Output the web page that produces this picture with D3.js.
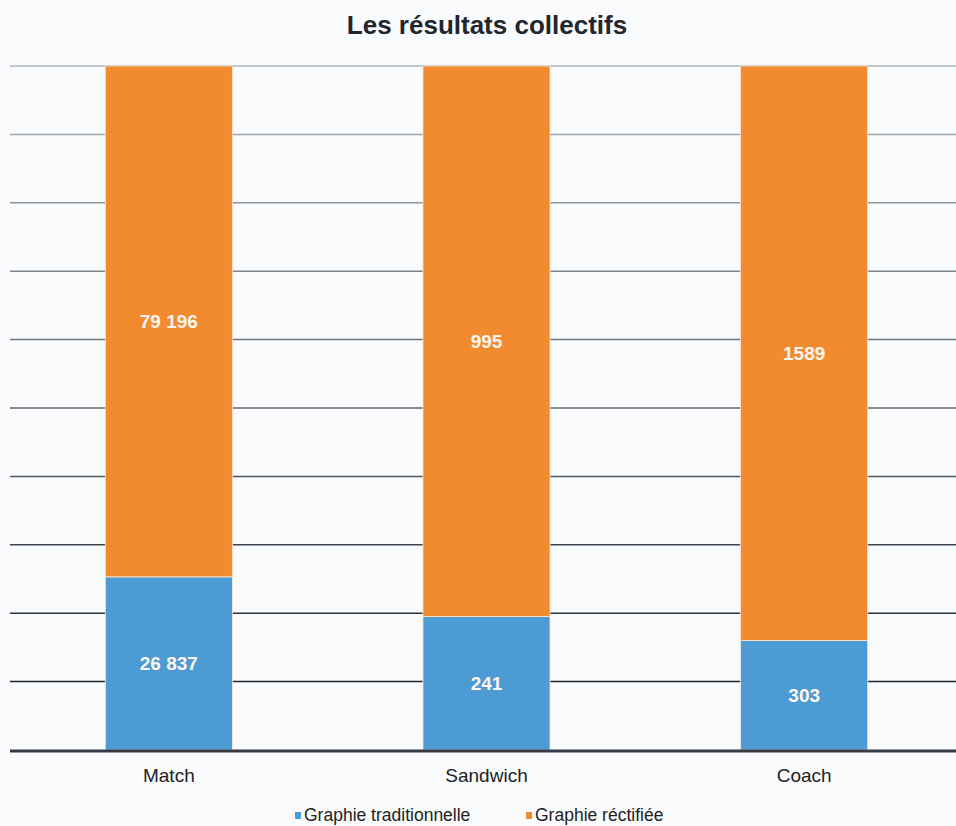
<!DOCTYPE html>
<html>
<head>
<meta charset="utf-8">
<script src="https://cdn.jsdelivr.net/npm/d3@7"></script>
<style>
  body { margin: 0; background: #fff; }
  svg { font-family: "Liberation Sans", Arial, sans-serif; }
</style>
</head>
<body>
<div id="chart"></div>
<script>
// data
const categories = ["Match", "Sandwich", "Coach"];
const traditionnelle = [26837, 241, 303];
const rectifiee = [79196, 995, 1589];
const seriesNames = ["Graphie traditionnelle", "Graphie réctifiée"];
const labelsTrad = ["26 837", "241", "303"];
const labelsRect = ["79 196", "995", "1589"];

const width = 956;
const height = 826;
const margin = {top: 66, right: -7, bottom: 76, left: 10};
const colors = ["#4c9bd4", "#f28a30"];

const svg = d3.select("#chart")
    .append("svg")
    .attr("width", width)
    .attr("height", height);

svg.append("rect")
    .attr("width", width)
    .attr("height", height)
    .attr("fill", "#fafbfd");

const x = d3.scaleBand()
    .domain(categories)
    .range([margin.left, width - margin.right])
    .paddingInner(0.6)
    .paddingOuter(0.3);

const y = d3.scaleLinear()
    .domain([0, 1])
    .range([height - margin.bottom, margin.top]);

// gridlines, lighter at the top, darker at the bottom
const ticks = d3.range(0, 11).map(d => d / 10);
const gridColor = d3.scaleLinear().domain([1, 0.1]).range(["#aeb6be", "#1f2430"]);
svg.append("g")
    .selectAll("line")
    .data(ticks.filter(t => t > 0))
    .enter()
    .append("line")
    .attr("x1", margin.left)
    .attr("x2", width)
    .attr("y1", d => y(d))
    .attr("y2", d => y(d))
    .attr("stroke", d => gridColor(d))
    .attr("stroke-width", 1.5);

// stacked, normalised to 100 %
const rows = categories.map((c, i) => ({cat: c, trad: traditionnelle[i], rect: rectifiee[i], i: i}));
const stack = d3.stack().keys(["trad", "rect"]).offset(d3.stackOffsetExpand);
const layers = stack(rows);
const segLabels = [labelsTrad, labelsRect];

const g = svg.append("g");
layers.forEach((layer, li) => {
  g.selectAll(".bar" + li)
    .data(layer)
    .enter()
    .append("rect")
    .attr("x", d => x(d.data.cat))
    .attr("width", x.bandwidth())
    .attr("y", d => y(d[1]))
    .attr("height", d => y(d[0]) - y(d[1]))
    .attr("fill", colors[li])
    .attr("stroke", "#fde9d8")
    .attr("stroke-width", 0.8);

  g.selectAll(".lab" + li)
    .data(layer)
    .enter()
    .append("text")
    .attr("x", d => x(d.data.cat) + x.bandwidth() / 2)
    .attr("y", d => (y(d[0]) + y(d[1])) / 2)
    .attr("dy", "0.35em")
    .attr("text-anchor", "middle")
    .attr("fill", "#fdf6ee")
    .attr("font-weight", "bold")
    .attr("font-size", 19)
    .text(d => segLabels[li][d.data.i]);
});

// baseline
svg.append("line")
    .attr("x1", margin.left)
    .attr("x2", width)
    .attr("y1", y(0) + 1)
    .attr("y2", y(0) + 1)
    .attr("stroke", "#353a44")
    .attr("stroke-width", 3);

// category labels
const xAxis = d3.axisBottom(x).tickSize(0).tickPadding(0);
const ax = svg.append("g")
    .attr("transform", `translate(0,${y(0) + 18})`)
    .call(xAxis);
ax.select(".domain").remove();
ax.selectAll("text")
    .attr("font-size", 19)
    .attr("fill", "#222")
    .attr("font-family", "Liberation Sans, Arial, sans-serif");

// title
svg.append("text")
    .attr("x", 487)
    .attr("y", 34)
    .attr("text-anchor", "middle")
    .attr("font-size", 26)
    .attr("font-weight", "bold")
    .attr("fill", "#22262e")
    .text("Les résultats collectifs");

// legend
const legendX = [295, 526];
const legend = svg.append("g");
seriesNames.forEach((name, i) => {
  legend.append("rect")
    .attr("x", legendX[i])
    .attr("y", 812)
    .attr("width", 6)
    .attr("height", 7)
    .attr("fill", colors[i]);
  legend.append("text")
    .attr("x", legendX[i] + 9)
    .attr("y", 821)
    .attr("font-size", 17.5)
    .attr("fill", "#222")
    .text(name);
});
</script>
</body>
</html>
